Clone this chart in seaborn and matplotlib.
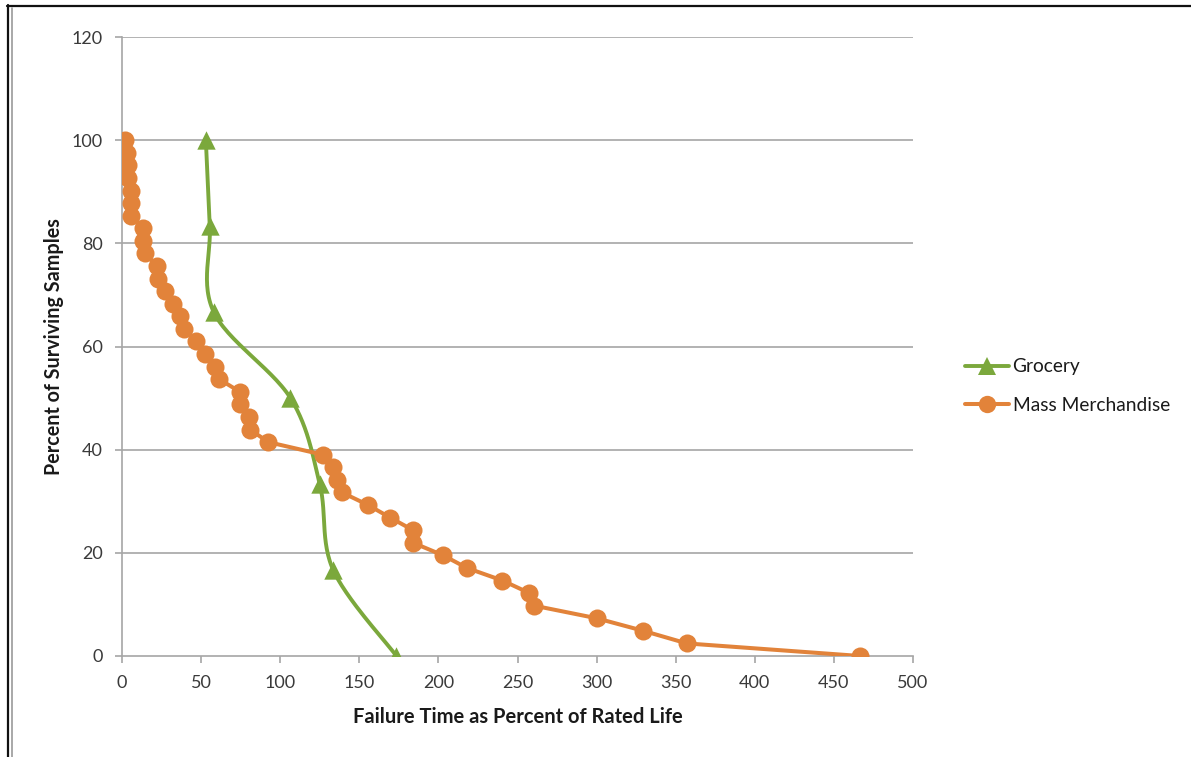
import numpy as np
import matplotlib
matplotlib.use("Agg")
import matplotlib.pyplot as plt
from matplotlib.lines import Line2D
import seaborn as sns

# Survival data: percent of samples still working vs. failure time (% of rated life)
grocery_time = [53, 55.5, 58, 106.5, 125, 133.5, 173.5]
grocery_surv = [100, 83.33, 66.67, 50, 33.33, 16.67, 0]

mass_time = [2, 3, 4, 4, 6, 6, 6, 13.5, 13.5, 14.5, 22, 23, 27, 32, 36.5, 39,
             47, 52.5, 58.5, 61.5, 74.5, 74.5, 80, 81, 92.5, 127, 133.5, 136,
             139, 155.5, 169.5, 184, 184, 203, 218, 240.5, 257.5, 260.5, 300,
             329.5, 357, 466.5]
mass_surv = [round(100 * (1 - i / 41), 2) for i in range(42)]

x_ticks = [0, 50, 100, 150, 200, 250, 300, 350, 400, 450, 500]
y_ticks = [0, 20, 40, 60, 80, 100, 120]

GREEN = "#7BA83C"
ORANGE = "#E2833A"
GRID = "#A6A6A6"
TEXT = "#3A3A3A"

sns.set_theme(style="white")
plt.rcParams["font.family"] = ["Lato", "DejaVu Sans"]

fig = plt.figure(figsize=(11.91, 7.57), dpi=100)
ax = fig.add_axes([122 / 1191, 1 - 656 / 757, 791 / 1191, 619 / 757])
ax.set_xlim(0, 500)
ax.set_ylim(0, 120)


def smooth_curve(ax, xs, ys, n=30):
    """Excel-style smoothed line: cardinal Bezier segments built in screen space."""
    pts = ax.transData.transform(np.column_stack([xs, ys]))
    out = [pts[0]]
    m = len(pts)
    for i in range(m - 1):
        p0 = pts[max(i - 1, 0)]
        p1 = pts[i]
        p2 = pts[i + 1]
        p3 = pts[min(i + 2, m - 1)]
        c1 = p1 + (p2 - p0) / 6.0
        c2 = p2 - (p3 - p1) / 6.0
        t = np.linspace(0, 1, n)[1:, None]
        seg = ((1 - t) ** 3) * p1 + 3 * ((1 - t) ** 2) * t * c1 + \
            3 * (1 - t) * t ** 2 * c2 + t ** 3 * p2
        out.extend(seg)
    out = ax.transData.inverted().transform(np.array(out))
    return out[:, 0], out[:, 1]


# grid
for yv in y_ticks[1:]:
    ax.axhline(yv, color=GRID, lw=1.2, zorder=1)

# Grocery: smoothed line with triangle markers
gx, gy = smooth_curve(ax, grocery_time, grocery_surv)
ax.plot(gx, gy, color=GREEN, lw=2.8, zorder=3, solid_capstyle="round")
sns.scatterplot(x=grocery_time, y=grocery_surv, ax=ax, marker="^", s=175,
                color=GREEN, edgecolor=GREEN, linewidth=0, zorder=4, legend=False)

# Mass Merchandise: line with circle markers (every sample kept, no aggregation)
sns.lineplot(x=mass_time, y=mass_surv, ax=ax, sort=False, estimator=None,
             color=ORANGE, lw=2.9, marker="o", markersize=13,
             markeredgewidth=0, zorder=5, legend=False)

ax.set_xticks(x_ticks)
ax.set_yticks(y_ticks)
ax.tick_params(axis="both", which="both", direction="out", length=5, width=1.2,
               color=GRID, labelsize=13, labelcolor=TEXT, pad=9,
               bottom=True, left=True)
for side in ["top", "right"]:
    ax.spines[side].set_visible(False)
for side in ["left", "bottom"]:
    ax.spines[side].set_color(GRID)
    ax.spines[side].set_linewidth(1.2)
ax.grid(False)

ax.set_xlabel("Failure Time as Percent of Rated Life", fontsize=14.5,
              fontweight="bold", color="#1A1A1A", labelpad=11)
ax.set_ylabel("Percent of Surviving Samples", fontsize=14.2,
              fontweight="bold", color="#1A1A1A", labelpad=5)

handles = [
    Line2D([], [], color=GREEN, lw=2.8, marker="^", markersize=12.5,
           markeredgewidth=0),
    Line2D([], [], color=ORANGE, lw=2.9, marker="o", markersize=12.5,
           markeredgewidth=0),
]
fig.legend(handles, ["Grocery", "Mass Merchandise"], loc="center left",
           bbox_to_anchor=(955 / 1191, 1 - 386 / 757), frameon=False,
           fontsize=13.8, handlelength=2.3, handletextpad=0.2,
           labelspacing=1.1, borderpad=0, labelcolor="#1A1A1A")

# outer frame lines
fig.add_artist(Line2D([7 / 1191, 1], [1 - 5.5 / 757] * 2, color="#111111",
                      lw=1.6, transform=fig.transFigure))
fig.add_artist(Line2D([7.5 / 1191] * 2, [0, 1 - 5 / 757], color="#111111",
                      lw=1.6, transform=fig.transFigure))
fig.add_artist(Line2D([11.5 / 1191] * 2, [0, 1 - 8 / 757], color="#9A9A9A",
                      lw=1.2, transform=fig.transFigure))

fig.savefig("out.png", dpi=100, facecolor="white")
